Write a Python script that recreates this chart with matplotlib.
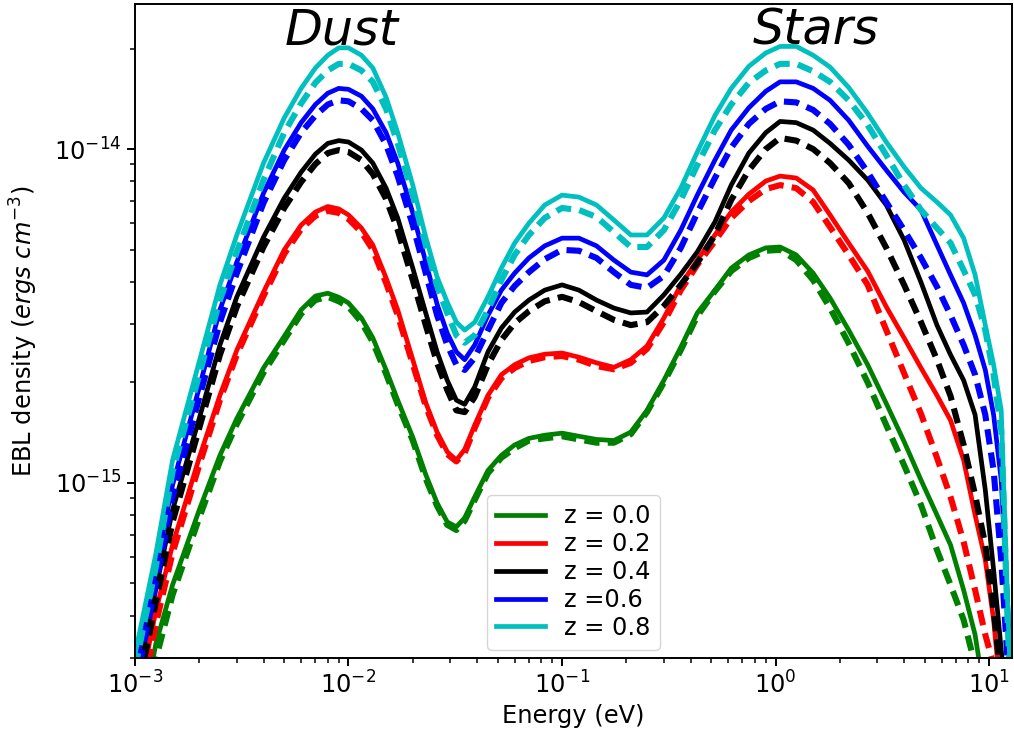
import numpy as np
import matplotlib.pyplot as plt
from matplotlib.ticker import NullFormatter

# Energy grid (eV)
energy = [1.0e-3, 1.25e-3, 1.5e-3, 2e-3, 2.5e-3, 3e-3, 4e-3, 5e-3, 6e-3, 7e-3,
          8e-3, 9e-3, 1e-2, 1.15e-2, 1.3e-2, 1.5e-2, 1.7e-2, 2e-2, 2.3e-2, 2.6e-2,
          2.9e-2, 3.2e-2, 3.5e-2, 3.9e-2, 4.5e-2, 5.2e-2, 6e-2, 7e-2, 8.3e-2, 0.1,
          0.12, 0.145, 0.175, 0.21, 0.25, 0.3, 0.36, 0.43, 0.52, 0.62,
          0.75, 0.9, 1.05, 1.25, 1.5, 1.8, 2.2, 2.7, 3.3, 4.0,
          4.8, 5.7, 6.6, 7.6, 8.6, 9.6, 10.5, 11.4, 12.2, 13.0]

# EBL density in units of 1e-15 ergs cm^-3 (solid and dashed models)
solid_z00 = [0.148, 0.328, 0.495, 0.830, 1.21, 1.56, 2.21, 2.75, 3.30, 3.63,
             3.70, 3.60, 3.46, 3.12, 2.72, 2.18, 1.77, 1.37, 1.06, 0.871,
             0.764, 0.739, 0.786, 0.908, 1.09, 1.21, 1.30, 1.36, 1.39, 1.41,
             1.38, 1.35, 1.34, 1.42, 1.65, 2.03, 2.55, 3.23, 3.78, 4.40,
             4.82, 5.06, 5.09, 4.82, 4.25, 3.58, 2.87, 2.26, 1.73, 1.33,
             1.02, 0.802, 0.652, 0.478, 0.351, 0.224, 0.15, 0.1, 0.08, 0.07]
dashed_z00 = [0.129, 0.295, 0.462, 0.786, 1.16, 1.50, 2.14, 2.68, 3.21, 3.53,
              3.61, 3.50, 3.37, 3.03, 2.64, 2.12, 1.72, 1.34, 1.03, 0.853,
              0.749, 0.723, 0.770, 0.889, 1.07, 1.19, 1.27, 1.34, 1.36, 1.38,
              1.35, 1.32, 1.32, 1.40, 1.63, 2.00, 2.50, 3.16, 3.75, 4.31,
              4.72, 4.96, 4.99, 4.65, 4.05, 3.34, 2.62, 2.00, 1.49, 1.13,
              0.859, 0.630, 0.495, 0.389, 0.285, 0.183, 0.12, 0.09, 0.07, 0.06]

solid_z02 = [0.202, 0.411, 0.652, 1.19, 1.83, 2.50, 3.73, 4.99, 5.92, 6.48,
             6.73, 6.62, 6.35, 5.80, 5.16, 4.11, 3.30, 2.34, 1.74, 1.42,
             1.24, 1.17, 1.26, 1.49, 1.83, 2.11, 2.26, 2.37, 2.43, 2.45,
             2.38, 2.29, 2.22, 2.34, 2.57, 3.12, 3.92, 4.65, 5.53, 6.48,
             7.33, 8.02, 8.30, 8.19, 7.54, 6.35, 5.23, 4.31, 3.37, 2.72,
             2.21, 1.83, 1.54, 1.17, 0.802, 0.588, 0.389, 0.224, 0.148, 0.11]
dashed_z02 = [0.178, 0.376, 0.617, 1.13, 1.77, 2.42, 3.63, 4.85, 5.76, 6.31,
              6.53, 6.44, 6.17, 5.64, 4.99, 3.97, 3.18, 2.27, 1.70, 1.39,
              1.22, 1.16, 1.23, 1.46, 1.80, 2.06, 2.21, 2.32, 2.38, 2.40,
              2.34, 2.24, 2.19, 2.29, 2.52, 3.03, 3.78, 4.50, 5.30, 6.22,
              6.99, 7.59, 7.80, 7.64, 6.94, 5.84, 4.82, 3.92, 2.87, 2.13,
              1.61, 1.19, 0.908, 0.666, 0.478, 0.351, 0.285, 0.195, 0.13, 0.1]

solid_z04 = [0.240, 0.478, 0.830, 1.56, 2.59, 3.61, 5.45, 7.13, 8.53, 9.66,
             10.4, 10.6, 10.5, 9.93, 9.08, 7.64, 6.22, 4.40, 3.23, 2.47,
             2.03, 1.77, 1.72, 1.94, 2.47, 2.91, 3.25, 3.53, 3.78, 3.92,
             3.78, 3.53, 3.34, 3.23, 3.25, 3.66, 4.22, 4.92, 6.05, 7.80,
             9.73, 11.2, 12.1, 12.0, 11.4, 10.4, 9.27, 8.08, 6.80, 5.34,
             3.99, 2.97, 2.42, 2.03, 1.60, 0.953, 0.549, 0.316, 0.195, 0.112]
dashed_z04 = [0.217, 0.437, 0.764, 1.46, 2.42, 3.37, 5.09, 6.66, 7.97, 9.02,
              9.73, 9.93, 9.80, 9.27, 8.42, 7.09, 5.72, 4.05, 2.97, 2.29,
              1.90, 1.65, 1.63, 1.81, 2.26, 2.68, 3.01, 3.27, 3.50, 3.61,
              3.48, 3.27, 3.08, 2.97, 3.03, 3.39, 3.92, 4.56, 5.53, 7.04,
              8.65, 10.0, 10.8, 10.6, 10.0, 9.08, 7.91, 6.44, 5.06, 3.92,
              3.03, 2.34, 1.82, 1.30, 0.921, 0.652, 0.417, 0.257, 0.170, 0.11]

solid_z06 = [0.272, 0.549, 0.986, 1.93, 3.30, 4.59, 7.38, 9.93, 12.0, 13.6,
             14.7, 15.2, 15.1, 14.4, 13.2, 11.2, 9.08, 6.44, 4.59, 3.43,
             2.81, 2.47, 2.34, 2.59, 3.18, 3.78, 4.25, 4.72, 5.13, 5.41,
             5.41, 5.13, 4.65, 4.28, 4.20, 4.65, 5.72, 7.28, 9.27, 11.4,
             13.3, 14.9, 15.9, 15.9, 15.2, 14.0, 12.2, 10.2, 8.65, 7.43,
             6.57, 5.16, 4.20, 3.46, 2.77, 2.18, 1.60, 1.02, 0.446, 0.170]
dashed_z06 = [0.243, 0.495, 0.908, 1.80, 3.03, 4.25, 6.90, 9.27, 11.2, 12.6,
              13.6, 14.0, 13.9, 13.2, 12.2, 10.3, 8.30, 5.92, 4.25, 3.18,
              2.59, 2.26, 2.18, 2.37, 2.87, 3.46, 3.89, 4.28, 4.68, 4.99,
              4.96, 4.72, 4.28, 3.92, 3.84, 4.17, 5.06, 6.44, 8.19, 10.1,
              11.9, 13.2, 13.9, 13.8, 13.1, 11.9, 10.3, 8.53, 6.94, 5.72,
              4.72, 3.87, 3.18, 2.59, 2.11, 1.60, 1.09, 0.588, 0.295, 0.129]

solid_z08 = [0.306, 0.609, 1.17, 2.31, 3.92, 5.53, 9.08, 12.4, 15.2, 17.5,
             19.1, 20.1, 20.1, 19.1, 17.5, 14.3, 11.2, 7.80, 5.45, 4.14,
             3.48, 3.03, 2.87, 3.03, 3.61, 4.40, 5.23, 6.00, 6.80, 7.28,
             7.18, 6.80, 6.13, 5.53, 5.53, 6.22, 7.64, 9.80, 12.6, 15.2,
             17.7, 19.4, 20.3, 20.3, 19.1, 17.6, 15.3, 12.8, 10.5, 8.84,
             7.64, 6.94, 6.35, 5.41, 4.20, 2.97, 2.26, 1.65, 0.446, 0.148]
dashed_z08 = [0.279, 0.557, 1.08, 2.11, 3.53, 4.92, 8.08, 11.2, 13.7, 15.8,
              17.2, 18.0, 18.0, 17.2, 15.9, 13.2, 10.4, 7.28, 5.16, 3.89,
              3.23, 2.77, 2.63, 2.77, 3.30, 4.05, 4.82, 5.53, 6.22, 6.66,
              6.57, 6.26, 5.64, 5.09, 5.09, 5.72, 7.04, 8.96, 11.4, 13.6,
              15.8, 17.2, 18.0, 18.0, 17.1, 15.9, 14.0, 11.8, 9.59, 7.80,
              6.57, 5.80, 5.23, 4.34, 3.66, 2.87, 2.11, 1.44, 0.389, 0.148]

solids = [solid_z00, solid_z02, solid_z04, solid_z06, solid_z08]
dashes = [dashed_z00, dashed_z02, dashed_z04, dashed_z06, dashed_z08]
labels = ['z = 0.0', 'z = 0.2', 'z = 0.4', 'z =0.6', 'z = 0.8']
colors = ['g', 'r', 'k', 'b', 'c']

fs = 17.4

fig = plt.figure(figsize=(10.14, 7.4), dpi=100)
ax = fig.add_axes([0.1331, 0.1108, 0.8649, 0.8838])

for s, d, lab, c in zip(solids, dashes, labels, colors):
    ax.plot(energy, np.array(s) * 1e-15, color=c, lw=3.4, label=lab)
    ax.plot(energy, np.array(d) * 1e-15, color=c, lw=4.4,
            linestyle=(0, (2.5, 1.35)))

ax.set_xscale('log')
ax.set_yscale('log')
ax.set_xlim(1e-3, 12.8)
ax.set_ylim(2.99e-16, 2.72e-14)
ax.xaxis.set_minor_formatter(NullFormatter())
ax.yaxis.set_minor_formatter(NullFormatter())

ax.set_xlabel('Energy (eV)', fontsize=fs)
ax.set_ylabel(r'EBL density ($ergs\ cm^{-3}$)', fontsize=fs, labelpad=10)
ax.tick_params(which='major', labelsize=fs, length=6.1, width=1.4)
ax.tick_params(which='minor', length=3.5, width=1.1)
for sp in ax.spines.values():
    sp.set_linewidth(1.4)

ax.text(9.3e-3, 2.27e-14, 'Dust', fontsize=35.5, style='italic', ha='center', va='center')
ax.text(1.54, 2.27e-14, 'Stars', fontsize=35.5, style='italic', ha='center', va='center')

ax.legend(loc='lower center', fontsize=fs, handlelength=2.0,
          labelspacing=0.16, borderaxespad=0.35)

fig.savefig('out.png', dpi=100)
